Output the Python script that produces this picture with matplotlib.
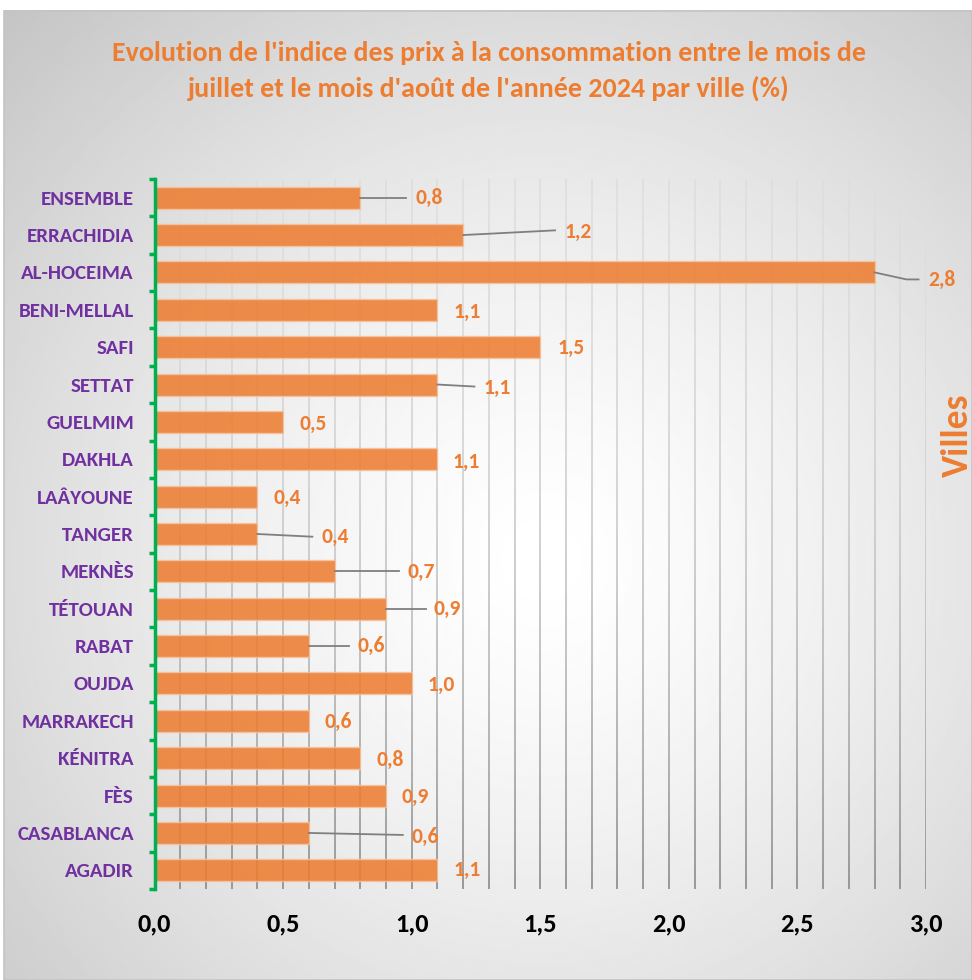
import numpy as np
import matplotlib
matplotlib.use('Agg')
import matplotlib.pyplot as plt
from matplotlib.collections import LineCollection
from matplotlib.patches import Rectangle

plt.rcParams['font.family'] = ['Carlito', 'DejaVu Sans']

# ---------------- data ----------------
cities = ["ENSEMBLE", "ERRACHIDIA", "AL-HOCEIMA", "BENI-MELLAL", "SAFI", "SETTAT",
          "GUELMIM", "DAKHLA", "LAÂYOUNE", "TANGER", "MEKNÈS", "TÉTOUAN", "RABAT",
          "OUJDA", "MARRAKECH", "KÉNITRA", "FÈS", "CASABLANCA", "AGADIR"]
values = [0.8, 1.2, 2.8, 1.1, 1.5, 1.1, 0.5, 1.1, 0.4, 0.4, 0.7, 0.9, 0.6,
          1.0, 0.6, 0.8, 0.9, 0.6, 1.1]
value_labels = ["0,8", "1,2", "2,8", "1,1", "1,5", "1,1", "0,5", "1,1", "0,4", "0,4",
                "0,7", "0,9", "0,6", "1,0", "0,6", "0,8", "0,9", "0,6", "1,1"]
xticks = [0.0, 0.5, 1.0, 1.5, 2.0, 2.5, 3.0]
xtick_labels = ["0,0", "0,5", "1,0", "1,5", "2,0", "2,5", "3,0"]
title_lines = ["Evolution de l'indice des prix à la consommation entre le mois de",
               "juillet et le mois d'août de l'année 2024 par ville (%)"]
axis_label = "Villes"

# ---------------- label placement (pixels relative to bar end / bar centre) -------
label_dx = [55, 101, 54, 16, 17, 46, 16, 15, 16, 64, 73, 48, 49, 16, 16, 16, 16, 103, 16]
label_dy = [0, -3.5, 7.5, 2, 1, 3, 2, 2.7, 1, 3, 1, 0.5, 0, 1, 1, 1.5, 1, 3.5, 0]
leaders = {0: [(46, 0)], 1: [(92, -4.7)], 2: [(32, 7), (44, 7)], 5: [(37, 2)],
           9: [(55, 2.7)], 10: [(64, 0)], 11: [(40, 0)], 12: [(40, 0)], 17: [(94, 2)]}

ORANGE = '#ED7D31'
PURPLE = '#7030A0'
GREEN = '#00B050'

W, H = 972, 980
fig = plt.figure(figsize=(W / 100, H / 100), dpi=100)
fig.patch.set_facecolor('white')

# ---------------- background radial gradient ----------------
bg = fig.add_axes([0, 0, 1, 1], zorder=-5)
bg.set_xlim(0, W)
bg.set_ylim(H, 0)
bg.axis('off')
yy, xx = np.mgrid[11:H:2, 4:W:2]
d = np.hypot(xx - 540, yy - 560) / 767.0
v = 1 - 0.23 * np.clip(d, 0, 1.2) ** 1.4
bg.imshow(v, cmap='gray', vmin=0, vmax=1, extent=(4, W, H, 11), aspect='auto',
          interpolation='bilinear')
bg.add_patch(Rectangle((4, 11), W - 4, H - 11, fill=False, edgecolor='#c4c4c4', lw=1.2))

# ---------------- main axes ----------------
left_px, right_px, top_px, bot_px = 154.5, 926, 179, 889
ax = fig.add_axes([left_px / W, 1 - bot_px / H, (right_px - left_px) / W, (bot_px - top_px) / H])
ax.patch.set_alpha(0)
n = len(cities)
ypos = np.arange(n)
ax.set_xlim(0, 3)
ax.set_ylim(n - 0.5, -0.5)
pxx = (right_px - left_px) / 3.0
pxy = (bot_px - top_px) / n

# gradient vertical gridlines
segs, cols = [], []
N = 60
ys = np.linspace(-0.5, n - 0.5, N + 1)
c_top, c_bot = np.array([0.87, 0.87, 0.87]), np.array([0.54, 0.54, 0.54])
for xv in np.arange(1, 31) / 10:
    for i in range(N):
        segs.append([(xv, ys[i]), (xv, ys[i + 1])])
        t = ((ys[i] + ys[i + 1]) / 2 + 0.5) / n
        cols.append(tuple(c_top + (c_bot - c_top) * t ** 2))
ax.add_collection(LineCollection(segs, colors=cols, linewidths=1.2, zorder=1))

ax.barh(ypos, values, height=0.59, color=ORANGE, alpha=0.87,
        edgecolor='#F6C3A0', linewidth=1.0, zorder=2)

for i, (val, lab) in enumerate(zip(values, value_labels)):
    if i in leaders:
        xs = [val] + [val + p[0] / pxx for p in leaders[i]]
        yl = [i] + [i + p[1] / pxy for p in leaders[i]]
        ax.plot(xs, yl, color='#7f7f7f', lw=1.3, zorder=3, clip_on=False)
    ax.text(val + label_dx[i] / pxx, i + label_dy[i] / pxy, lab, ha='left', va='center',
            color=ORANGE, fontsize=15.5, fontweight='bold', zorder=4, clip_on=False)

# axes styling
for s in ['top', 'right', 'bottom']:
    ax.spines[s].set_visible(False)
ax.spines['left'].set_color(GREEN)
ax.spines['left'].set_linewidth(2.5)
ax.set_yticks(ypos)
ax.set_yticklabels(cities, color=PURPLE, fontsize=15, fontweight='bold')
ax.set_yticks(np.arange(-0.5, n), minor=True)
ax.tick_params(axis='y', which='major', length=0, pad=14.8)
ax.tick_params(axis='y', which='minor', length=4, width=2.5, color=GREEN, direction='out')
ax.set_xticks(xticks)
ax.set_xticklabels(xtick_labels, fontsize=19, fontweight='bold', color='black')
ax.tick_params(axis='x', length=0, pad=17)

# titles
fig.text(489 / W, 1 - 61 / H, title_lines[0], ha='center', va='baseline',
         color=ORANGE, fontsize=20.1, fontweight='bold')
fig.text(489 / W, 1 - 97 / H, title_lines[1], ha='center', va='baseline',
         color=ORANGE, fontsize=20.1, fontweight='bold')
fig.text(957 / W, 1 - 435 / H, axis_label, rotation=90, ha='center', va='center',
         color=ORANGE, fontsize=27, fontweight='bold')

fig.savefig('out.png', dpi=100)
